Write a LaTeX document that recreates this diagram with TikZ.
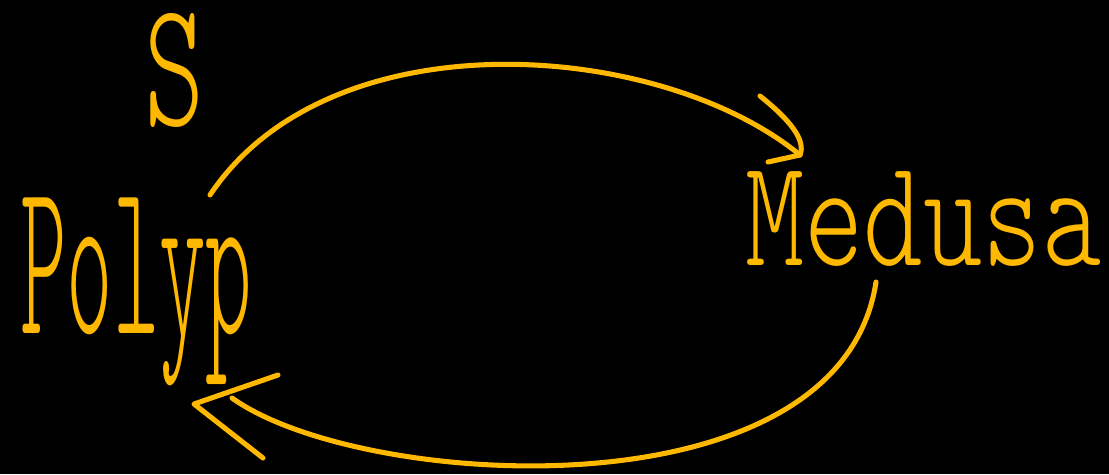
\documentclass[tikz,border=0pt]{standalone}
\usepackage{graphicx}
\usepackage{fontspec}
\newfontfamily\thinfont{lmmonolt10-regular.otf}
\definecolor{chalk}{RGB}{255,184,0}
\tikzset{
  ink/.style={draw=chalk, line width=3.6pt, line cap=round, line join=round},
  word/.style={text=chalk, inner sep=0pt, font=\thinfont}
}
\begin{document}
\begin{tikzpicture}[x=0.025cm, y=-0.025cm]
\fill[black] (0,0) rectangle (1109,474);
\useasboundingbox (0,0) rectangle (1109,474);
% labels
\node[word, anchor=north west] (polyp) at (20,198) {\resizebox*{5.8cm}{4.7cm}{Polyp}};
\node[word, anchor=base west] (medusa) at (745,265) {\resizebox{8.9cm}{2.35cm}{Medusa}};
\node[word] (s) at (175,70) {\resizebox{1.5cm}{2.8cm}{S}};
% connector end points
\coordinate (a1s) at (210,195);
\coordinate (a1e) at (800,155);
\coordinate (a2s) at (876,282);
\coordinate (a2e) at (194,404);
% Polyp -> Medusa
\draw[ink] (a1s) .. controls (330,15) and (660,40) .. (a1e);
\draw[ink] (760,96) .. controls (790,120) and (806,140) .. (a1e) -- (768,162);
% Medusa -> Polyp
\draw[ink] (a2s) .. controls (840,520) and (360,490) .. (232,398);
\draw[ink] (278,375) -- (a2e) -- (263,458);
\end{tikzpicture}
\end{document}
